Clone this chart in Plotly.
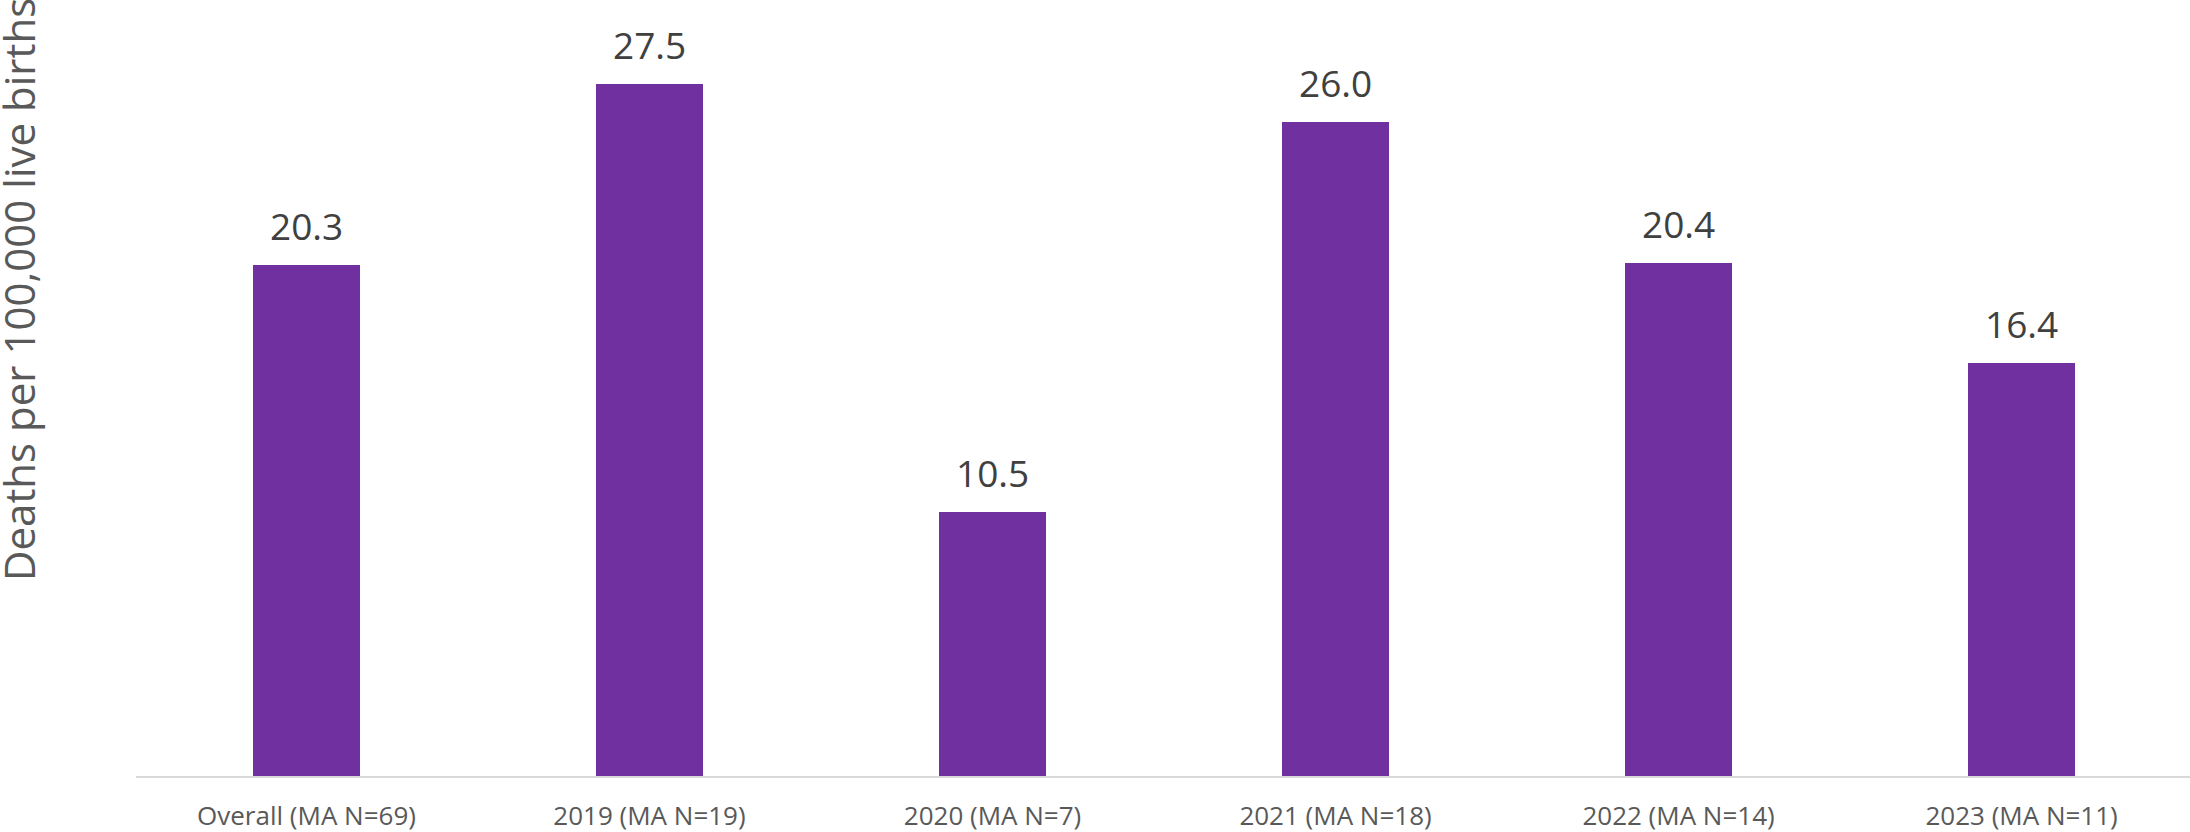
import plotly.graph_objects as go

# Maternal death rate by period
categories = ["Overall (MA N=69)", "2019 (MA N=19)", "2020 (MA N=7)",
              "2021 (MA N=18)", "2022 (MA N=14)", "2023 (MA N=11)"]
rates = [20.3, 27.5, 10.5, 26.0, 20.4, 16.4]
value_labels = ["20.3", "27.5", "10.5", "26.0", "20.4", "16.4"]
y_title = "Deaths per 100,000 live births"

W, H = 2190, 832
M_L, M_R, M_T, M_B = 136, 0, 21, 56

fig = go.Figure()
fig.add_trace(go.Bar(
    x=categories,
    y=rates,
    width=0.313,
    marker=dict(color="#7030A0", line=dict(width=0)),
    hoverinfo="x+y",
))

# Value labels above each bar
for cat, val, lab in zip(categories, rates, value_labels):
    fig.add_annotation(
        x=cat, y=val, text=lab, showarrow=False,
        xanchor="center", yanchor="bottom", yshift=12,
        font=dict(family="Open Sans", size=37, color="#404040"),
    )

# Vertical axis title
plot_h = H - M_T - M_B
fig.add_annotation(
    xref="paper", yref="paper",
    x=(18 - M_L) / (W - M_L - M_R), y=(H - M_B - 290) / plot_h,
    text=y_title, textangle=-90, showarrow=False,
    xanchor="center", yanchor="middle",
    font=dict(family="Open Sans", size=42, color="#595959"),
)

fig.update_layout(
    width=W, height=H,
    margin=dict(l=M_L, r=M_R, t=M_T, b=M_B, pad=0),
    plot_bgcolor="white", paper_bgcolor="white",
    showlegend=False,
    bargap=0,
    xaxis=dict(
        range=[-0.497, 5.491],
        showgrid=False, showline=True, linecolor="#D9D9D9", linewidth=2,
        ticks="", ticklabelstandoff=16,
        tickfont=dict(family="Open Sans", size=26, color="#595959"),
        fixedrange=True,
    ),
    yaxis=dict(
        range=[0, 30], showgrid=False, showline=False, zeroline=False,
        showticklabels=False, ticks="", fixedrange=True,
    ),
)

fig.write_html("out.html")
